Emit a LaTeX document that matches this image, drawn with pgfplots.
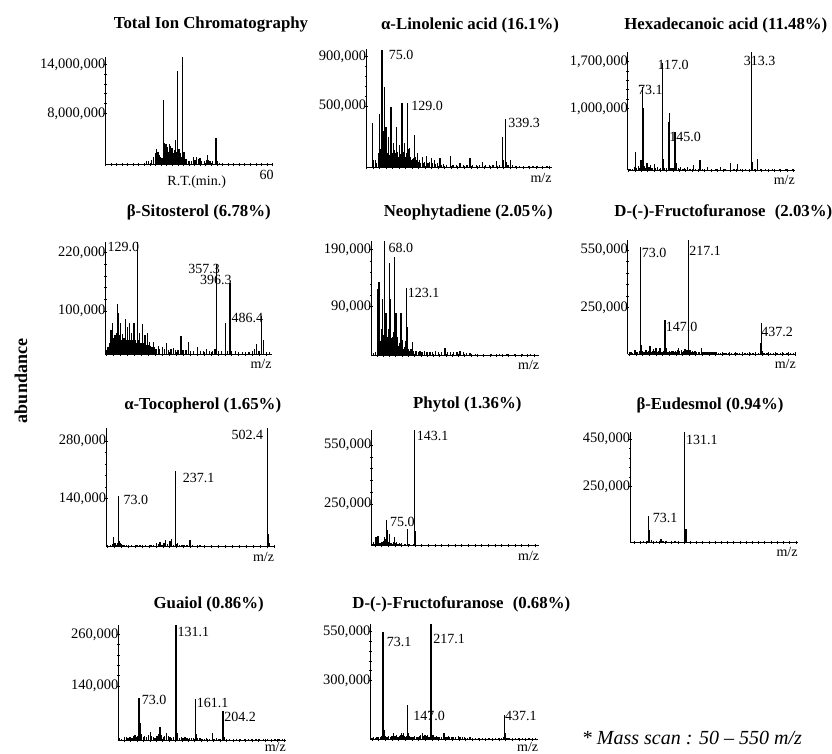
\documentclass[border=0pt]{standalone}
\usepackage{fontspec}
\setmainfont{Liberation Serif}
\usepackage{pgfplots}
\pgfplotsset{compat=1.18}
\newcommand{\tf}{\fontsize{16.8}{19}\selectfont\bfseries}
\newcommand{\lf}{\fontsize{14}{16}\selectfont}
\pgfplotsset{
  ms/.style={
    scale only axis, anchor=south west,
    axis x line=bottom, axis y line=left,
    axis line style={-, line width=0.9pt, black},
    clip mode=individual,
    tick align=center,
    major tick length=3.5pt, minor tick length=2.5pt,
    tick style={black, line width=0.6pt},
    xticklabels=\empty,
    minor y tick num=4,
    yticklabel style={inner sep=0pt, anchor=east, xshift=2pt, font=\fontsize{14.5}{16}\selectfont},
  },
  sp/.style={ycomb, black, line width=1.3pt, mark=none},
}
\tikzset{
  pl/.style={font=\lf, inner sep=0pt, anchor=west},
  pr/.style={font=\lf, inner sep=0pt, anchor=east},
}
\newcommand{\mzlabel}[1][-10pt]{\node[font=\lf, inner sep=0pt, anchor=east] at (rel axis cs:1,0) [yshift=#1] {m/z};}
\begin{document}
\begin{tikzpicture}[x=1pt,y=1pt]
\useasboundingbox (0,0) rectangle (832,753);

% ---------- Panel 1: TIC ----------
\begin{axis}[ms, at={(105.3pt,588.7pt)}, width=167.4pt, height=107pt,
  xmin=0, xmax=60, ymin=1.755, ymax=14.86, xtick distance=2,
  ytick={8,14}, yticklabels={{8,000,000},{14,000,000}}]
\addplot[sp] coordinates {(14.8,2.1)(15.6,2.2)(16.6,2.3)(17.3,2.6)(17.9,3.1)(18.4,3.6)(18.8,3.2)(19.1,3.3)(19.5,2.9)(19.9,2.7)(20.3,2.5)(20.8,9.63)(21.0,3.0)(21.3,4.4)(21.6,3.5)(21.8,4.3)(22.1,3.6)(22.4,3.9)(22.7,3.3)(22.9,4.2)(23.2,3.5)(23.4,4.0)(23.7,3.4)(23.9,3.8)(24.2,3.0)(24.4,3.1)(24.8,3.5)(25.1,4.7)(25.5,3.2)(25.9,13.18)(26.2,3.2)(26.4,3.6)(26.9,3.1)(27.3,2.6)(27.7,14.86)(28.2,3.3)(28.6,2.4)(29.2,2.4)(30.0,2.1)(30.8,2.2)(31.6,2.6)(32.2,2.3)(32.8,2.7)(33.4,2.4)(33.9,2.5)(34.6,2.1)(35.5,2.2)(36.2,2.3)(36.7,2.9)(37.1,2.3)(37.5,2.2)(38.3,2.1)(39.7,4.94)(40.1,2.2)(41,1.95)};
\end{axis}
\node[font=\lf] at (196.7,571.3) {R.T.(min.)};
\node[font=\lf] at (266.7,578) {60};
\node[font=\tf] at (211,728) {Total Ion Chromatography};

% ---------- Panel 2: alpha-Linolenic acid ----------
\begin{axis}[ms, at={(366pt,585.3pt)}, width=185.7pt, height=118.4pt,
  xmin=40.6, xmax=440, ymin=0, ymax=960, xtick distance=14,
  ytick={500,900}, yticklabels={{500,000},{900,000}}]
\addplot[sp] coordinates {(54.9,360)(57,60)(61.4,62)(63,40)(67,120)(69.3,433)(71,150)(73,90)(75,955)(77,300)(79,120)(80.7,657)(82,200)(83.6,333)(85,150)(87,120)(88.6,251)(90,100)(92,80)(94.3,490)(96,150)(97.5,120)(99.3,198)(101,140)(103,80)(105,120)(106.5,333)(108,130)(110,90)(112.2,180)(114,110)(116,80)(118,522)(120,130)(121.5,100)(123,198)(125,90)(127,120)(129.4,522)(131,150)(133.7,160)(136,90)(138,60)(140,70)(142,80)(145.2,265)(147,90)(148.5,60)(150.9,120)(153,50)(155,60)(158,40)(161.7,90)(164,40)(167,50)(171,95)(174,40)(177,45)(181.7,75)(184,35)(187.4,65)(190,30)(194,35)(199.6,75)(203,25)(208,30)(214,25)(222.5,95)(228,25)(235,20)(242.6,40)(250,20)(258,25)(264,80)(270,20)(278,25)(285,20)(290.6,50)(298,20)(306,25)(314,20)(321.4,55)(328,25)(334.3,251)(337,60)(339.9,392)(342,50)(346,20)(351.5,60)(356,20)(362,15)(370,15)(380,15)(390,15)(400,15)(410,15)(420,15)(430,15)};
\node[pl, xshift=6.7pt, yshift=-5pt] at (axis cs:75,955) {75.0};
\node[pl, xshift=4pt, yshift=-3pt] at (axis cs:129.4,522) {129.0};
\node[pl, xshift=3pt, yshift=-4pt] at (axis cs:339.9,392) {339.3};
\mzlabel
\end{axis}
\node[font=\tf] at (470,728) {α-Linolenic acid (16.1\%)};

% ---------- Panel 3: Hexadecanoic acid ----------
\begin{axis}[ms, at={(627.7pt,582.7pt)}, width=167.3pt, height=118.6pt,
  xmin=40, xmax=410, ymin=72, ymax=1850, xtick distance=14,
  ytick={1000,1700}, yticklabels={{1,000,000},{1,700,000}}]
\addplot[sp] coordinates {(45,90)(50,95)(55,120)(57.6,351)(60,110)(63.4,141)(66,100)(69.3,226)(71,120)(73.1,1316)(75,1002)(77,140)(80,110)(82.5,177)(85,100)(87,120)(89.8,151)(92,100)(95,110)(98.6,166)(102,100)(106,126)(110,95)(113,100)(117,1676)(119,237)(122,100)(126,110)(130.1,801)(133,936)(136,110)(140,100)(144.8,651)(147.7,177)(152,100)(157.2,126)(162,95)(166,100)(171.9,126)(178,95)(185,151)(190,95)(199.7,226)(205,90)(215.8,126)(225,90)(235,90)(245,126)(255,90)(267,186)(275,90)(283.2,166)(290,85)(300,90)(313.3,1850)(316.2,201)(320,90)(327.2,237)(335,85)(345,85)(360,85)(375,85)(390,85)(405,85)};
\node[pl, xshift=-4.7pt, yshift=-3pt] at (axis cs:73.1,1316) {73.1};
\node[pl, xshift=-5pt, yshift=-2pt] at (axis cs:117,1676) {117.0};
\node[pl, xshift=-6pt, yshift=-5pt] at (axis cs:144.8,651) {145.0};
\node[pl, xshift=-7.7pt, yshift=-9pt] at (axis cs:313.3,1850) {313.3};
\mzlabel
\end{axis}
\node[font=\tf] at (725.8,728) {Hexadecanoic acid (11.48\%)};

% ---------- Panel 4: beta-Sitosterol ----------
\begin{axis}[ms, at={(105.3pt,399pt)}, width=166.4pt, height=112.3pt,
  xmin=36, xmax=515, ymin=11.6, ymax=242.7, xtick distance=20,
  ytick={100,220}, yticklabels={{100,000},{220,000}}]
\addplot[sp] coordinates {(40,20)(44,25)(48,35)(52.1,61)(54,40)(55.9,76)(58,45)(60,35)(63.6,51)(66,40)(68,55)(70.3,114)(72,70)(74.2,95)(76,45)(78,50)(79.9,75)(82,40)(84,35)(85.7,53)(88,40)(90,45)(93.4,84)(95,50)(97,40)(99.1,68)(101,40)(103,35)(105.9,76)(108,40)(110,35)(111.6,54)(114,40)(116,35)(118.3,76)(120,45)(122,40)(124,35)(126,30)(129,243)(131,40)(133.7,54)(136,35)(138,30)(140,35)(143.3,73)(146,35)(148,30)(150,51)(153,30)(156.8,54)(159,30)(162.5,37)(166,28)(170,25)(174,37)(178,25)(182,22)(188.5,28)(193,22)(200,25)(206,22)(212.5,35)(218,20)(225,22)(231.7,23)(238,20)(245,20)(253.8,49)(260,20)(268,20)(274.9,37)(282,18)(290,18)(300.8,25)(310,18)(318,18)(327.8,21)(336,17)(345,17)(352,22)(356.6,196)(362,18)(370,17)(381.5,76)(388,18)(395,158)(400,17)(410,17)(420,16)(430,16)(440,16)(450,16)(460,17)(466,22)(471.8,33)(478,17)(486.4,90)(491,40)(500,16)(508,16)};
\node[pr, xshift=1.6pt, yshift=-5.6pt] at (axis cs:129,243) {129.0};
\node[pr, xshift=3.3pt, yshift=-5pt] at (axis cs:356.6,196) {357.3};
\node[pr, xshift=1.7pt, yshift=2.7pt] at (axis cs:395,158) {396.3};
\node[pr, xshift=1.6pt, yshift=-2.3pt] at (axis cs:486.4,90) {486.4};
\mzlabel
\end{axis}
\node[font=\tf] at (198.8,540.7) {β-Sitosterol (6.78\%)};

% ---------- Panel 5: Neophytadiene ----------
\begin{axis}[ms, at={(371pt,397.7pt)}, width=168.3pt, height=114.6pt,
  xmin=33, xmax=462, ymin=4, ymax=206, xtick distance=16,
  ytick={90,190}, yticklabels={{90,000},{190,000}}]
\addplot[sp] coordinates {(40,8)(45,10)(49.2,120)(51,40)(53.5,134)(55,60)(57,30)(59,50)(61,25)(62.8,103)(64,40)(66,30)(68,206)(69.5,60)(71.3,79)(73,30)(75.6,37)(77.5,50)(79.8,167)(81.5,60)(83.2,104)(85,35)(87.5,37)(89,25)(91.5,45)(93.4,178)(95,55)(96.8,79)(98.5,30)(101.1,37)(103,20)(105,25)(107.5,45)(109.6,79)(111.5,25)(113.8,31)(116,15)(119,18)(121,30)(123.1,122)(125.7,54)(128,15)(131,12)(135,15)(139.4,28)(142,12)(146,12)(149.6,12)(154,10)(158,11)(163,9)(170,11)(176,9)(183,10)(190,9)(197,11)(205,9)(213,10)(221.8,16)(228,9)(236,9)(244,10)(252,9)(260,11)(268,9)(276,8)(285,8)(300,7)(320,7)(340,7)(360,7)(380,7)(400,7)(420,7)(440,7)};
\node[pl, xshift=3.6pt, yshift=-7.6pt] at (axis cs:68,206) {68.0};
\node[pl, xshift=1.4pt, yshift=-4.4pt] at (axis cs:123.1,122) {123.1};
\mzlabel
\end{axis}
\node[font=\tf] at (468.3,540.7) {Neophytadiene (2.05\%)};

% ---------- Panel 6: D-(-)-Fructofuranose 2.03 ----------
\begin{axis}[ms, at={(627.7pt,399pt)}, width=168.3pt, height=114pt,
  xmin=35, xmax=542, ymin=6, ymax=603, xtick distance=20,
  ytick={250,550}, yticklabels={{250,000},{550,000}}]
\addplot[sp] coordinates {(40,12)(45,14)(50,12)(55,16)(57,27)(60,14)(65,18)(70,20)(73,568)(75,53)(78,20)(82,15)(86,18)(90.2,27)(94,15)(98,20)(102.2,50)(106,18)(109,22)(112.2,31)(116,20)(120.3,36)(124,16)(128,20)(132.3,36)(136,18)(140,15)(143,22)(147,184)(149,30)(152.4,36)(156,18)(160,22)(164,18)(168,20)(172.5,23)(176,18)(180,20)(184,25)(188.6,36)(192,20)(196,25)(200,18)(202.6,18)(205,22)(207.6,31)(211,18)(214,25)(217.1,603)(219,30)(222.7,27)(226,18)(230,20)(234,15)(237.8,23)(242,15)(248,14)(252,15)(257.9,36)(262,14)(268,15)(272,18)(276,15)(280,14)(284,16)(288,18)(292,15)(296,14)(300,14)(303,18)(308,13)(315,12)(322,13)(328,12)(333.1,10)(340,12)(348,11)(356,12)(364,11)(372,12)(380,11)(388,12)(396,11)(404,12)(412,11)(420,12)(428,12)(435,62)(437.2,167)(440,20)(446,11)(455,10)(465,10)(475,10)(485,9)(495,9)(505,9)(515,9)(525,9)(535,9)};
\node[pl, xshift=1.4pt, yshift=-6pt] at (axis cs:73,568) {73.0};
\node[pl, xshift=1pt, yshift=-10.7pt] at (axis cs:217.1,603) {217.1};
\node[pl, xshift=0.7pt, yshift=-6.7pt] at (axis cs:147,184) {147.0};
\node[pl, xshift=0pt, yshift=-8.4pt] at (axis cs:437.2,167) {437.2};
\mzlabel
\end{axis}
\node[font=\tf] at (723.3,540.7) {D-(-)-Fructofuranose\hspace{0.3em} (2.03\%)};

% ---------- Panel 7: alpha-Tocopherol ----------
\begin{axis}[ms, at={(106pt,206.3pt)}, width=168.3pt, height=118.4pt,
  xmin=36.4, xmax=521, ymin=21.8, ymax=311, xtick distance=20,
  ytick={140,280}, yticklabels={{140,000},{280,000}}]
\addplot[sp] coordinates {(40,25)(45,24)(50,26)(55,28)(57.5,46)(60,30)(62.3,30)(65,27)(68,26)(71,30)(73,146)(75,35)(76.7,30)(80,28)(85,26)(90,25)(96,27)(102,24)(110,25)(118,24)(126,25)(134.4,26)(142,24)(150,25)(158,24)(166,25)(174,26)(182.4,30)(188,28)(192,34)(198,27)(203,30)(208.4,38)(214,28)(220.8,36)(225.6,40)(230,27)(237.1,207.5)(240,28)(243,30)(248,25)(255,26)(262,25)(270,27)(278.5,38)(285,25)(292,24)(300,25)(307.3,26)(315,24)(325,24)(335,24)(345,24)(355,24)(365,24)(375,24)(385,24)(395,24)(405,24)(415,24)(425,24)(435,24)(445,24)(455,24)(465,24)(475,24)(485,24)(495,24)(502.4,311)(505.2,54)(508,30)(515,24)};
\node[pr, xshift=-4.4pt, yshift=-6.7pt] at (axis cs:502.4,311) {502.4};
\node[pl, xshift=7pt, yshift=-7pt] at (axis cs:237.1,207.5) {237.1};
\node[pl, xshift=4.6pt, yshift=-4pt] at (axis cs:73,146) {73.0};
\mzlabel
\end{axis}
\node[font=\tf] at (202.7,348) {α-Tocopherol (1.65\%)};

% ---------- Panel 8: Phytol ----------
\begin{axis}[ms, at={(371.3pt,207.3pt)}, width=168pt, height=115.7pt,
  xmin=39, xmax=442, ymin=37, ymax=628, xtick distance=16,
  ytick={250,550}, yticklabels={{250,000},{550,000}}]
\addplot[sp] coordinates {(42,45)(43.9,57)(47,45)(50.3,83)(52,55)(55.1,86)(57,50)(59.9,49)(62,45)(65,55)(67.9,63)(70,60)(71.1,83)(73,70)(75,168)(77,80)(78.3,117)(80,55)(82.3,97)(84,50)(86,45)(87.9,49)(90,45)(93,55)(95.1,83)(97,50)(99.9,57)(102,45)(104,48)(106.3,49)(109,44)(111.9,49)(115,43)(118,45)(121,44)(125.4,122)(127,45)(129.4,48)(132,43)(136,42)(140,44)(143.1,628)(145.4,112)(148,42)(155,40)(165,41)(175,40)(185,41)(195,40)(205,41)(215,40)(225,41)(240,40)(255,40)(270,40)(285,40)(300,40)(315,40)(330,40)(345,40)(360,40)(375,40)(390,40)(405,40)(420,40)(435,40)};
\node[pl, xshift=2pt, yshift=-5.7pt] at (axis cs:143.1,628) {143.1};
\node[pl, xshift=3.7pt, yshift=-1.7pt] at (axis cs:75,168) {75.0};
\mzlabel
\end{axis}
\node[font=\tf] at (467.3,348.7) {Phytol (1.36\%)};

% ---------- Panel 9: beta-Eudesmol ----------
\begin{axis}[ms, at={(630pt,210.7pt)}, width=167.7pt, height=110.6pt,
  xmin=43, xmax=313, ymin=15, ymax=482, xtick distance=10,
  ytick={250,450}, yticklabels={{250,000},{450,000}}]
\addplot[sp] coordinates {(46,18)(50,17)(55,18)(60,17)(65,19)(69,22)(71,20)(73.1,126)(74.7,67)(77.9,25)(80.6,20)(83,18)(85.9,20)(89,18)(92.9,28)(94.5,22)(96.7,20)(99,18)(102,22)(106,18)(110.1,21)(113,18)(115.4,21)(119,17)(123,18)(127,17)(131.1,482)(133,70)(134.5,20)(138,17)(145,17)(152,17)(160,17)(168,17)(176,17)(184,17)(192,17)(200,17)(210,17)(220,17)(230,17)(240,17)(250,17)(260,17)(270,17)(280,17)(290,17)(300,17)(310,17)};
\node[pl, xshift=1.3pt, yshift=-8.3pt] at (axis cs:131.1,482) {131.1};
\node[pl, xshift=4pt, yshift=-2.3pt] at (axis cs:73.1,126) {73.1};
\mzlabel
\end{axis}
\node[font=\tf] at (710,348) {β-Eudesmol (0.94\%)};

% ---------- Panel 10: Guaiol ----------
\begin{axis}[ms, at={(118.3pt,12.7pt)}, width=167.7pt, height=115.3pt,
  xmin=40.6, xmax=303, ymin=14, ymax=281.6, xtick distance=10,
  ytick={140,260}, yticklabels={{140,000},{260,000}}]
\addplot[sp] coordinates {(43,20)(46,18)(50,21)(53.7,22)(56,20)(58.9,22)(62,20)(64,23)(66.7,26)(69,22)(71,24)(73,112)(74.6,55)(77.2,29)(79.8,22)(82,24)(85,22)(88,26)(91.3,34)(93,24)(95.5,22)(98,20)(101,24)(103,28)(105.9,44)(108,26)(111.1,22)(113,25)(116.4,32)(119,24)(121.6,22)(124,20)(127,22)(131.1,281.6)(133.1,30)(136,20)(139,22)(142,20)(145.1,22)(148,19)(152,20)(155,19)(158,20)(161.1,110)(162.3,29)(165,19)(168.6,20)(172,18)(176,18)(179.1,20)(183,18)(188.5,32)(191,18)(194.7,20)(198,18)(201,18)(204.2,83)(206.2,22)(210,17)(215,17)(220.8,18)(226,17)(232,17)(238,17)(244,17)(250,17)(256,17)(262,17)(268,17)(274,17)(280,17)(286,17)(292,17)(298,17)};
\node[pl, xshift=1.3pt, yshift=-7.3pt] at (axis cs:131.1,281.6) {131.1};
\node[pl, xshift=2.7pt, yshift=-1.7pt] at (axis cs:73,112) {73.0};
\node[pl, xshift=1.3pt, yshift=-3.7pt] at (axis cs:161.1,110) {161.1};
\node[pl, xshift=1.3pt, yshift=-6.6pt] at (axis cs:204.2,83) {204.2};
\mzlabel[-7pt]
\end{axis}
\node[font=\tf] at (208.7,148.7) {Guaiol (0.86\%)};

% ---------- Panel 11: D-(-)-Fructofuranose 0.68 ----------
\begin{axis}[ms, at={(370.3pt,13.7pt)}, width=168pt, height=115.3pt,
  xmin=35, xmax=538, ymin=0, ymax=589, xtick distance=20,
  ytick={300,550}, yticklabels={{300,000},{550,000}}]
\addplot[sp] coordinates {(40,8)(45,10)(50,8)(55,12)(60,10)(65,12)(70,15)(73.1,550)(75,25)(77.1,48)(80,15)(85,12)(90,15)(95,12)(100,18)(104,34)(108,15)(111,18)(114,22)(118,14)(122,16)(126,20)(129,31)(131,22)(134,34)(137,16)(140,14)(143,18)(147,175)(149,31)(152,16)(156,12)(160,14)(164,12)(168,15)(173.9,14)(178,12)(182,16)(186,20)(191.9,31)(195,18)(198.8,22)(202,15)(205.8,22)(209,14)(213,12)(217.1,589)(220,20)(223.8,22)(227,14)(230,12)(233.8,15)(238,12)(243,12)(248,13)(255.7,34)(260,12)(265,12)(268.7,15)(273,12)(280,10)(285,12)(290,10)(298.6,15)(302,10)(305.6,14)(310,10)(318,10)(325,9)(333.6,10)(340,9)(350,8)(360,8)(370,8)(380,8)(390,8)(400,8)(410,8)(420,8)(428,8)(434,10)(437.1,124)(439.4,31)(444,9)(450,8)(460,8)(470,8)(480,8)(490,8)(500,8)(510,8)(520,8)(530,8)};
\node[pl, xshift=3.7pt, yshift=-10pt] at (axis cs:73.1,550) {73.1};
\node[pl, xshift=2pt, yshift=-15pt] at (axis cs:217.1,589) {217.1};
\node[pl, xshift=5.4pt, yshift=-11pt] at (axis cs:147,175) {147.0};
\node[pl, xshift=0.3pt, yshift=-1pt] at (axis cs:437.1,124) {437.1};
\mzlabel[-7.5pt]
\end{axis}
\node[font=\tf] at (461.3,148.7) {D-(-)-Fructofuranose\hspace{0.3em} (0.68\%)};

% ---------- common labels ----------
\node[rotate=90, font=\fontsize{18}{20}\selectfont\bfseries] at (21,372) {abundance};
\node[anchor=west, inner sep=0pt, font=\fontsize{20}{22}\selectfont\itshape] at (581.7,14.7) {* Mass scan : 50 -- 550 m/z};
\end{tikzpicture}
\end{document}
